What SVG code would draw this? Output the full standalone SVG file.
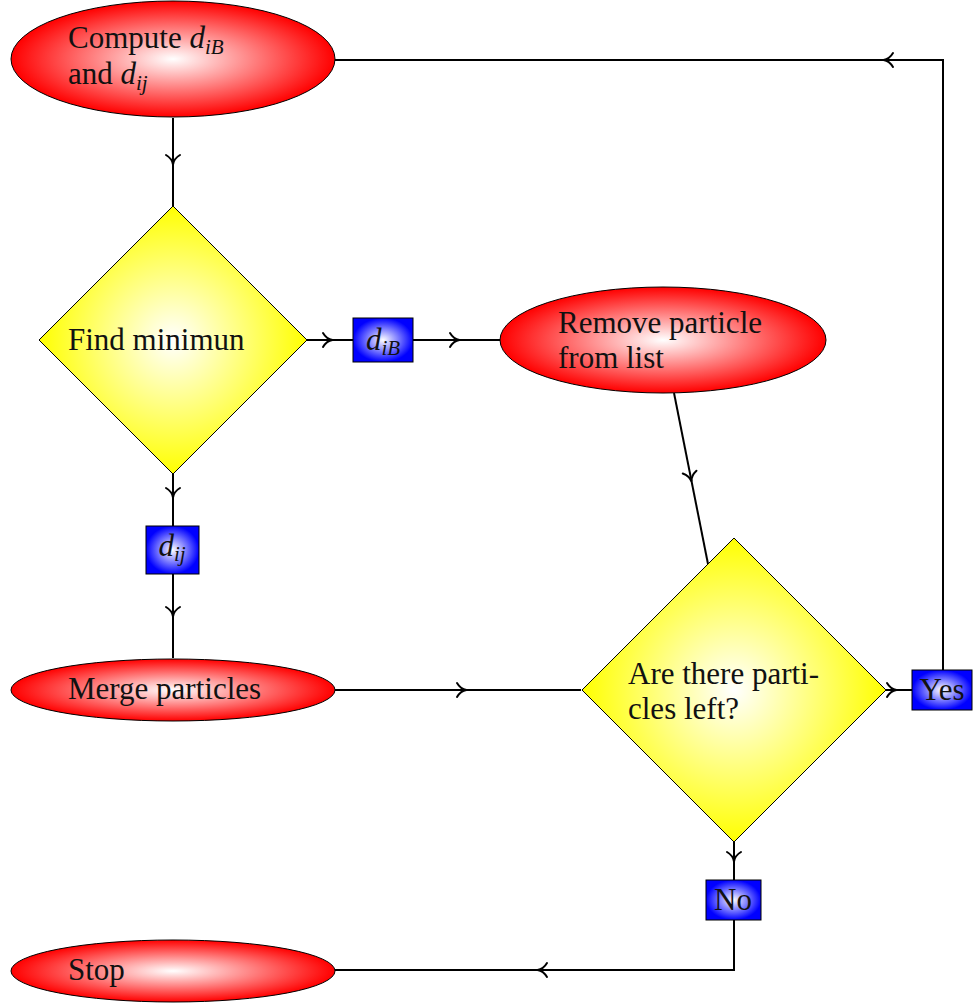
<svg xmlns="http://www.w3.org/2000/svg" xmlns:xlink="http://www.w3.org/1999/xlink" width="973" height="1008" viewBox="0 0 973 1008">
<style>
.node{stroke:#000;stroke-width:1}
.lbl{font-family:"Liberation Serif","DejaVu Serif",serif;font-size:31px;fill:#111}
.m{font-style:italic}
.sub{font-style:italic;font-size:21px}
.conn path{fill:none;stroke:#000;stroke-width:2}
.ar{fill:none;stroke:#000;stroke-width:2;stroke-linecap:round}
</style>
<defs>
<radialGradient id="gR" cx="50%" cy="50%" r="50%"><stop offset="0" stop-color="#fff"/><stop offset="1" stop-color="#f00"/></radialGradient>
<radialGradient id="gY" cx="50%" cy="50%" r="50%"><stop offset="0" stop-color="#fff"/><stop offset="1" stop-color="#ff0"/></radialGradient>
<radialGradient id="gB" cx="50%" cy="50%" r="50%"><stop offset="0" stop-color="#fff"/><stop offset="1" stop-color="#00f"/></radialGradient>
<path id="arr" class="ar" d="M-7,-7 C-4.5,-2.8 -1.5,-0.6 2.5,0 C-1.5,0.6 -4.5,2.8 -7,7"/>
</defs>
<g class="conn" id="connectors">
<path d="M173,118 V206"/><use xlink:href="#arr" transform="translate(173,162) rotate(90)"/>
<path d="M307,340 H353"/><use xlink:href="#arr" transform="translate(330,340)"/>
<path d="M413,340 H500"/><use xlink:href="#arr" transform="translate(457,340)"/>
<path d="M173,473 V526"/><use xlink:href="#arr" transform="translate(173,495) rotate(90)"/>
<path d="M173,574 V658"/><use xlink:href="#arr" transform="translate(173,614) rotate(90)"/>
<path d="M674,393 L708,564"/><use xlink:href="#arr" transform="translate(691,479) rotate(78.5)"/>
<path d="M335,690 H581"/><use xlink:href="#arr" transform="translate(464,690)"/>
<path d="M885,690 H912"/><use xlink:href="#arr" transform="translate(894,690)"/>
<path d="M943,670 V60 H335"/><use xlink:href="#arr" transform="translate(886,60) rotate(180)"/>
<path d="M734,842 V880"/><use xlink:href="#arr" transform="translate(734,859) rotate(90)"/>
<path d="M734,920 V970 H335"/><use xlink:href="#arr" transform="translate(540,970) rotate(180)"/>
</g>
<g id="compute">
<ellipse class="node" cx="173" cy="59" rx="162" ry="58" fill="url(#gR)"/>
<text class="lbl" x="68" y="48">Compute <tspan class="m">d</tspan><tspan class="sub" dy="6">iB</tspan></text>
<text class="lbl" x="68" y="84">and <tspan class="m">d</tspan><tspan class="sub" dy="6">ij</tspan></text>
</g>
<g id="find">
<polygon class="node" points="173,206 307,340 173,474 39,340" fill="url(#gY)"/>
<text class="lbl" x="68" y="350">Find minimun</text>
</g>
<g id="diB">
<rect class="node" x="353" y="318" width="60" height="44" fill="url(#gB)"/>
<text class="lbl" x="383" y="350" text-anchor="middle"><tspan class="m">d</tspan><tspan class="sub" dy="5">iB</tspan></text>
</g>
<g id="remove">
<ellipse class="node" cx="663" cy="340" rx="163" ry="53" fill="url(#gR)"/>
<text class="lbl" x="558" y="333">Remove particle</text>
<text class="lbl" x="558" y="368">from list</text>
</g>
<g id="dij">
<rect class="node" x="146" y="526" width="53" height="48" fill="url(#gB)"/>
<text class="lbl" x="172" y="556" text-anchor="middle"><tspan class="m">d</tspan><tspan class="sub" dy="5">ij</tspan></text>
</g>
<g id="merge">
<ellipse class="node" cx="173" cy="690" rx="162" ry="31" fill="url(#gR)"/>
<text class="lbl" x="68" y="699">Merge particles</text>
</g>
<g id="left">
<polygon class="node" points="734,538 886,690 734,842 582,690" fill="url(#gY)"/>
<text class="lbl" x="628" y="684">Are there parti-</text>
<text class="lbl" x="628" y="719">cles left?</text>
</g>
<g id="yes">
<rect class="node" x="912" y="670" width="60" height="40" fill="url(#gB)"/>
<text class="lbl" x="942" y="700" text-anchor="middle">Yes</text>
</g>
<g id="no">
<rect class="node" x="706" y="880" width="55" height="40" fill="url(#gB)"/>
<text class="lbl" x="733" y="910" text-anchor="middle">No</text>
</g>
<g id="stop">
<ellipse class="node" cx="173" cy="971" rx="162" ry="31" fill="url(#gR)"/>
<text class="lbl" x="68" y="980">Stop</text>
</g>
</svg>
